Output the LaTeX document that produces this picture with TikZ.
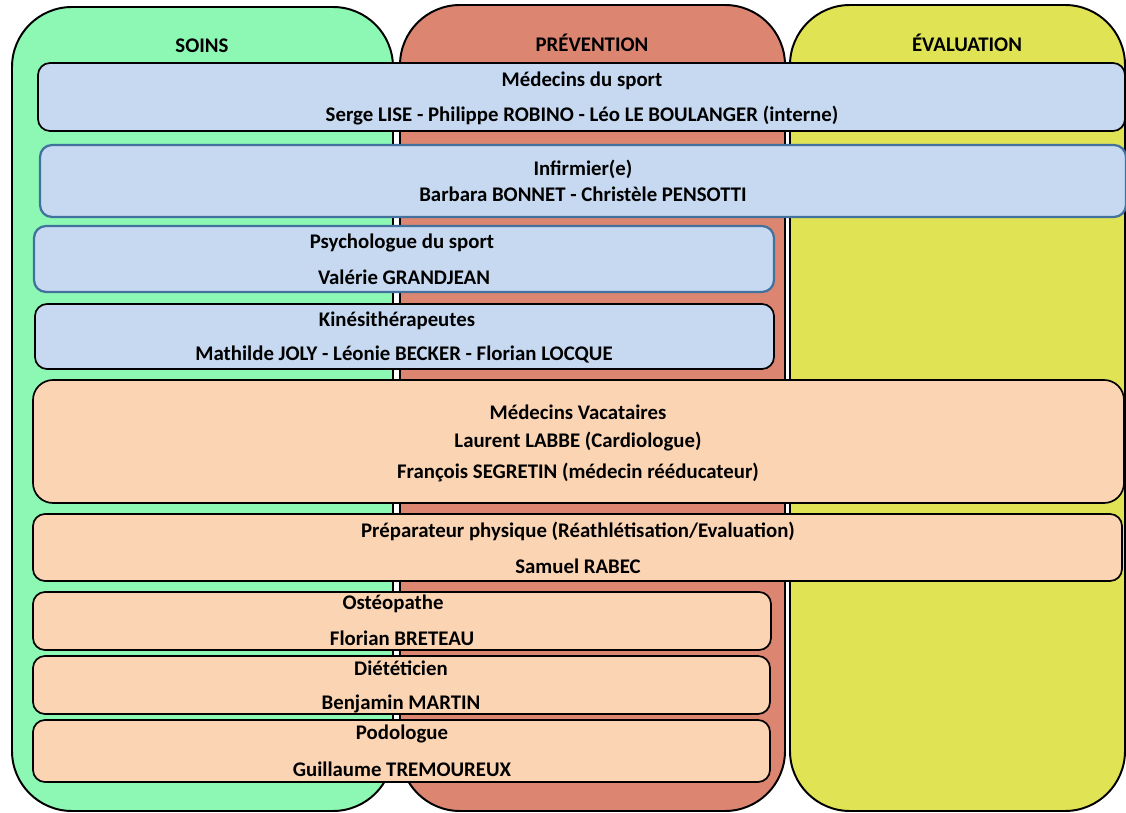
\documentclass[tikz,border=0pt]{standalone}
\usepackage{fontspec}
\setmainfont{Carlito}
\definecolor{soinsgreen}{RGB}{140,248,180}
\definecolor{prevred}{RGB}{220,134,114}
\definecolor{evalyellow}{RGB}{224,228,84}
\definecolor{staffblue}{RGB}{198,217,241}
\definecolor{staffpeach}{RGB}{251,212,180}
\definecolor{edgeblue}{RGB}{65,113,156}
\tikzset{
  column/.style={draw=black, line width=1.4pt, rounded corners=1.5cm},
  bluebox/.style={draw=black, fill=staffblue, line width=1.2pt, rounded corners=0.3cm},
  blueedge/.style={bluebox, draw=edgeblue, line width=1.6pt},
  peachbox/.style={draw=black, fill=staffpeach, line width=1.2pt, rounded corners=0.3cm},
  lbl/.style={font=\bfseries\fontsize{14.8}{17}\selectfont, inner sep=0pt}
}
\begin{document}
\begin{tikzpicture}[x=0.025cm, y=-0.025cm]
\useasboundingbox (0,0) rectangle (1126,813);

% the three columns
\draw[column, fill=soinsgreen] (12,7) rectangle (393,811);
\draw[column, fill=prevred] (400,5) rectangle (785,811);
\draw[column, fill=evalyellow] (790,5) rectangle (1125,811);
\node[lbl] (soins) at (202,46) {SOINS};
\node[lbl] (prevention) at (592,43) {PRÉVENTION};
\node[lbl] (evaluation) at (967,43) {ÉVALUATION};

% blue boxes
\draw[bluebox] (38,63) rectangle (1125,131);
\node[lbl] (medsport) at (582,81) {Médecins du sport};
\node[lbl] (medsportnames) at (582,116) {Serge LISE - Philippe ROBINO - Léo LE BOULANGER (interne)};
\draw[blueedge] (40,145) rectangle (1126,217);
\node[lbl] (infirm) at (583,169) {Infirmier(e)};
\node[lbl] (infirmnames) at (583,194) {Barbara BONNET - Christèle PENSOTTI};
\draw[blueedge] (34,226) rectangle (774,292);
\node[lbl] (psycho) at (402,243) {Psychologue du sport};
\node[lbl] (psychonames) at (404,277) {Valérie GRANDJEAN};
\draw[bluebox] (35,304) rectangle (774,369);
\node[lbl] (kine) at (397,321) {Kinésithérapeutes};
\node[lbl] (kinenames) at (404,355) {Mathilde JOLY - Léonie BECKER - Florian LOCQUE};

% peach boxes
\draw[peachbox, rounded corners=0.5cm] (33,380) rectangle (1124,503);
\node[lbl] (vacat) at (578,412) {Médecins Vacataires};
\node[lbl] (vacatone) at (578,442) {Laurent LABBE (Cardiologue)};
\node[lbl] (vacattwo) at (578,473) {François SEGRETIN (médecin rééducateur)};
\draw[peachbox] (33,514) rectangle (1122,581);
\node[lbl] (prepa) at (578,531) {Préparateur physique (Réathlétisation/Evaluation)};
\node[lbl] (prepanames) at (578,566) {Samuel RABEC};
\draw[peachbox] (33,592) rectangle (771,650);
\node[lbl] (osteo) at (393,604) {Ostéopathe};
\node[lbl] (osteonames) at (402,638) {Florian BRETEAU};
\draw[peachbox] (33,656) rectangle (770,714);
\node[lbl] (dieti) at (401,668) {Diététicien};
\node[lbl] (dietinames) at (401,704) {Benjamin MARTIN};
\draw[peachbox] (33,720) rectangle (770,782);
\node[lbl] (podo) at (402,734) {Podologue};
\node[lbl] (podonames) at (402,769) {Guillaume TREMOUREUX};
\end{tikzpicture}
\end{document}
